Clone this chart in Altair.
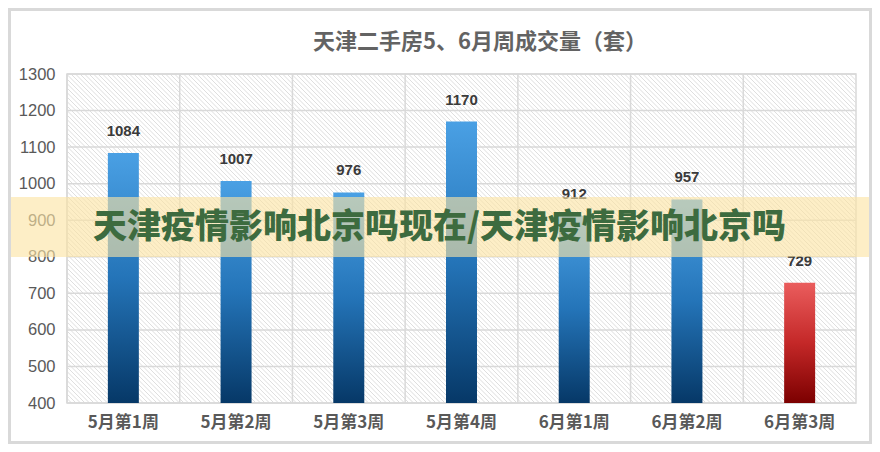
import altair as alt
import pandas as pd

# ---- data ----
weeks = ["5月第1周", "5月第2周", "5月第3周", "5月第4周", "6月第1周", "6月第2周", "6月第3周"]
volumes = [1084, 1007, 976, 1170, 912, 957, 729]
highlight = [False, False, False, False, False, False, True]
y_ticks = [400, 500, 600, 700, 800, 900, 1000, 1100, 1200, 1300]
title_text = "天津二手房5、6月周成交量（套）"
banner_text = "天津疫情影响北京吗现在/天津疫情影响北京吗"

df = pd.DataFrame({"week": weeks, "value": volumes, "hl": highlight})
df_ticks = pd.DataFrame({"value": y_ticks})
df_weeks = pd.DataFrame({"week": weeks})

# ---- layout ----
W, H = 789, 329
PAD = {"left": 59, "top": 66, "right": 16, "bottom": 41}

# hatch texture for the plot background (decorative diagonal lines)
hatch_step = 4.5
hatch_off = [-H + i * hatch_step for i in range(int((W + H) / hatch_step) + 2)]
df_hatch = pd.DataFrame({"o": hatch_off, "o2": [o + H for o in hatch_off]})

blue_grad = {
    "gradient": "linear", "x1": 0, "y1": 0, "x2": 0, "y2": 1,
    "stops": [
        {"offset": 0, "color": "#4aa0e4"},
        {"offset": 0.5, "color": "#2474b8"},
        {"offset": 1, "color": "#063867"},
    ],
}
red_grad = {
    "gradient": "linear", "x1": 0, "y1": 0, "x2": 0, "y2": 1,
    "stops": [
        {"offset": 0, "color": "#ea5d5d"},
        {"offset": 0.5, "color": "#c42828"},
        {"offset": 1, "color": "#7c0000"},
    ],
}

x_scale = alt.Scale(domain=weeks, paddingInner=0, paddingOuter=0)
y_scale = alt.Scale(domain=[400, 1300], zero=False, nice=False)

x_axis = alt.Axis(
    labelAngle=0, labelFont="Noto Sans CJK SC", labelFontWeight="bold",
    labelFontSize=17, labelColor="#595959", labelPadding=11,
    domain=False, ticks=False, grid=False,
)
y_axis = alt.Axis(
    values=y_ticks, format="d", labelFont="Liberation Sans", labelFontSize=16.5,
    labelColor="#595959", labelPadding=12, domain=False, ticks=False,
    grid=False,
)

x_enc = alt.X("week:N", sort=weeks, title=None, scale=x_scale, axis=x_axis)
y_enc = alt.Y("value:Q", title=None, scale=y_scale, axis=y_axis)

hatch = alt.Chart(df_hatch).mark_rule(
    color="#dedede", strokeWidth=1, clip=True
).encode(
    x=alt.X("o:Q", scale=None), x2="o2:Q", y=alt.value(0), y2=alt.value(H)
)

hgrid = alt.Chart(df_ticks).mark_rule(color="#d9d9d9", strokeWidth=1.5).encode(
    y=y_enc
)

vgrid = alt.Chart(df_weeks).mark_rule(color="#d9d9d9", strokeWidth=1.5).encode(
    x=alt.X("week:N", sort=weeks, title=None, scale=x_scale, axis=x_axis, bandPosition=0)
)

base = alt.Chart(df)

bars_blue = base.transform_filter("!datum.hl").mark_bar(
    width={"band": 0.275}, fill=blue_grad
).encode(x=x_enc, y=y_enc, y2=alt.datum(400))

bars_red = base.transform_filter("datum.hl").mark_bar(
    width={"band": 0.275}, fill=red_grad
).encode(x=x_enc, y=y_enc, y2=alt.datum(400))

labels = base.mark_text(
    font="Liberation Sans", fontWeight="bold", fontSize=15, color="#3a3a3a",
    baseline="bottom", dy=-14,
).encode(x=x_enc, y=y_enc, text=alt.Text("value:Q"))

title = alt.Chart(pd.DataFrame({"t": [title_text]})).mark_text(
    font="Noto Sans CJK SC", fontWeight="bold", fontSize=22, color="#636363",
    align="center", baseline="middle",
).encode(x=alt.value(413), y=alt.value(-32), text="t:N")

banner = alt.Chart(pd.DataFrame({"b": [1]})).mark_rect(
    fill="#fbe3a3", opacity=0.62
).encode(
    x=alt.value(-PAD["left"]), x2=alt.value(W + PAD["right"]),
    y=alt.value(123), y2=alt.value(183),
)

banner_label = alt.Chart(pd.DataFrame({"t": [banner_text]})).mark_text(
    font="Noto Sans CJK SC", fontWeight=900, fontSize=34, color="#3d6b3f",
    align="left", baseline="middle",
).encode(x=alt.value(26), y=alt.value(154), text="t:N")

frame = alt.Chart(pd.DataFrame({"f": [1]})).mark_rect(
    fill=None, stroke="#d9d9d9", strokeWidth=3
).encode(
    x=alt.value(-PAD["left"] + 1.5), x2=alt.value(W + PAD["right"] - 1.5),
    y=alt.value(-PAD["top"] + 1.5), y2=alt.value(H + PAD["bottom"] - 1.5),
)

chart = alt.layer(
    hatch, hgrid, vgrid, bars_blue, bars_red, labels, title, banner, banner_label, frame
).properties(
    width=W, height=H,
    autosize=alt.AutoSizeParams(type="none"),
    padding=PAD,
    background="white",
).configure_view(
    stroke="#d9d9d9", strokeWidth=1.5,
)

chart.save("out.html", embed_options={"renderer": "svg", "actions": False})
